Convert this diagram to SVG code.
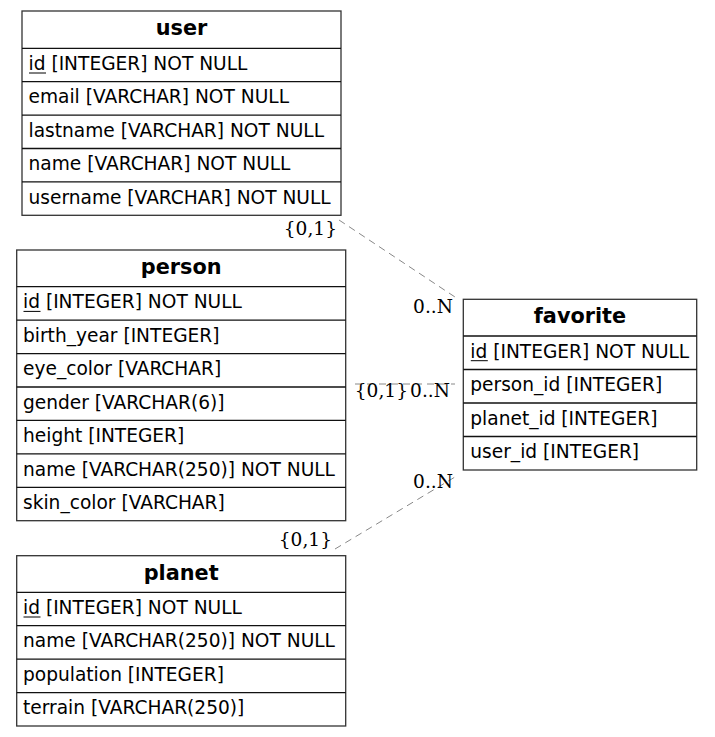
<svg xmlns="http://www.w3.org/2000/svg" width="715" height="737" viewBox="0 0 715 737">
<style>
.box{fill:#fff;stroke:#333;stroke-width:1.3}
.sep{stroke:#111;stroke-width:1.3}
.t{font-family:"DejaVu Sans",sans-serif;font-size:18.6px;fill:#000}
.h{font-family:"DejaVu Sans",sans-serif;font-size:20.8px;font-weight:bold;fill:#000;text-anchor:middle}
.u{stroke:#000;stroke-width:1}
.e{stroke:#888;stroke-width:1;stroke-dasharray:7,5;fill:none}
.l{font-family:"DejaVu Serif",serif;font-size:18.6px;fill:#000}
</style>
<rect width="715" height="737" fill="#fff"/>
<g id="edges">
<path class="e" d="M339,220 L455,297"/>
<path class="e" d="M355,384 L455,384"/>
<path class="e" d="M335,549 L455,477"/>
<text class="l" x="337" y="235" text-anchor="end">{0,1}</text>
<text class="l" x="453" y="313" text-anchor="end">0..N</text>
<text class="l" x="408" y="397" text-anchor="end">{0,1}</text>
<text class="l" x="450" y="397" text-anchor="end">0..N</text>
<text class="l" x="332" y="546" text-anchor="end">{0,1}</text>
<text class="l" x="453" y="488" text-anchor="end">0..N</text>
</g>
<g id="user">
<rect class="box" x="22" y="11" width="319" height="204.3"/>
<line class="sep" x1="22" y1="48.3" x2="341" y2="48.3"/>
<line class="sep" x1="22" y1="81.7" x2="341" y2="81.7"/>
<line class="sep" x1="22" y1="115.1" x2="341" y2="115.1"/>
<line class="sep" x1="22" y1="148.5" x2="341" y2="148.5"/>
<line class="sep" x1="22" y1="181.9" x2="341" y2="181.9"/>
<text class="h" x="181.5" y="35">user</text>
<text class="t" x="28.5" y="70">id [INTEGER] NOT NULL</text>
<line class="u" x1="29" y1="73" x2="46" y2="73"/>
<text class="t" x="28.5" y="103.4">email [VARCHAR] NOT NULL</text>
<text class="t" x="28.5" y="136.8">lastname [VARCHAR] NOT NULL</text>
<text class="t" x="28.5" y="170.2">name [VARCHAR] NOT NULL</text>
<text class="t" x="28.5" y="203.6">username [VARCHAR] NOT NULL</text>
</g>
<g id="person">
<rect class="box" x="16.7" y="250" width="329" height="270.7"/>
<line class="sep" x1="16.7" y1="286.7" x2="345.7" y2="286.7"/>
<line class="sep" x1="16.7" y1="320.1" x2="345.7" y2="320.1"/>
<line class="sep" x1="16.7" y1="353.6" x2="345.7" y2="353.6"/>
<line class="sep" x1="16.7" y1="387" x2="345.7" y2="387"/>
<line class="sep" x1="16.7" y1="420.4" x2="345.7" y2="420.4"/>
<line class="sep" x1="16.7" y1="453.9" x2="345.7" y2="453.9"/>
<line class="sep" x1="16.7" y1="487.3" x2="345.7" y2="487.3"/>
<text class="h" x="181.2" y="274">person</text>
<text class="t" x="23" y="308.4">id [INTEGER] NOT NULL</text>
<line class="u" x1="23.5" y1="311.4" x2="40.5" y2="311.4"/>
<text class="t" x="23" y="341.8">birth_year [INTEGER]</text>
<text class="t" x="23" y="375.3">eye_color [VARCHAR]</text>
<text class="t" x="23" y="408.7">gender [VARCHAR(6)]</text>
<text class="t" x="23" y="442.1">height [INTEGER]</text>
<text class="t" x="23" y="475.6">name [VARCHAR(250)] NOT NULL</text>
<text class="t" x="23" y="509">skin_color [VARCHAR]</text>
</g>
<g id="favorite">
<rect class="box" x="463.3" y="299.3" width="233.4" height="170.7"/>
<line class="sep" x1="463.3" y1="336" x2="696.7" y2="336"/>
<line class="sep" x1="463.3" y1="369.5" x2="696.7" y2="369.5"/>
<line class="sep" x1="463.3" y1="403" x2="696.7" y2="403"/>
<line class="sep" x1="463.3" y1="436.5" x2="696.7" y2="436.5"/>
<text class="h" x="580" y="323.3">favorite</text>
<text class="t" x="470.3" y="357.7">id [INTEGER] NOT NULL</text>
<line class="u" x1="470.8" y1="360.7" x2="487.8" y2="360.7"/>
<text class="t" x="470.3" y="391.2">person_id [INTEGER]</text>
<text class="t" x="470.3" y="424.7">planet_id [INTEGER]</text>
<text class="t" x="470.3" y="458.2">user_id [INTEGER]</text>
</g>
<g id="planet">
<rect class="box" x="16.7" y="555.7" width="329" height="170.3"/>
<line class="sep" x1="16.7" y1="592.3" x2="345.7" y2="592.3"/>
<line class="sep" x1="16.7" y1="625.7" x2="345.7" y2="625.7"/>
<line class="sep" x1="16.7" y1="659.1" x2="345.7" y2="659.1"/>
<line class="sep" x1="16.7" y1="692.6" x2="345.7" y2="692.6"/>
<text class="h" x="181.2" y="579.7">planet</text>
<text class="t" x="23" y="614">id [INTEGER] NOT NULL</text>
<line class="u" x1="23.5" y1="617" x2="40.5" y2="617"/>
<text class="t" x="23" y="647.4">name [VARCHAR(250)] NOT NULL</text>
<text class="t" x="23" y="680.8">population [INTEGER]</text>
<text class="t" x="23" y="714.3">terrain [VARCHAR(250)]</text>
</g>
</svg>
